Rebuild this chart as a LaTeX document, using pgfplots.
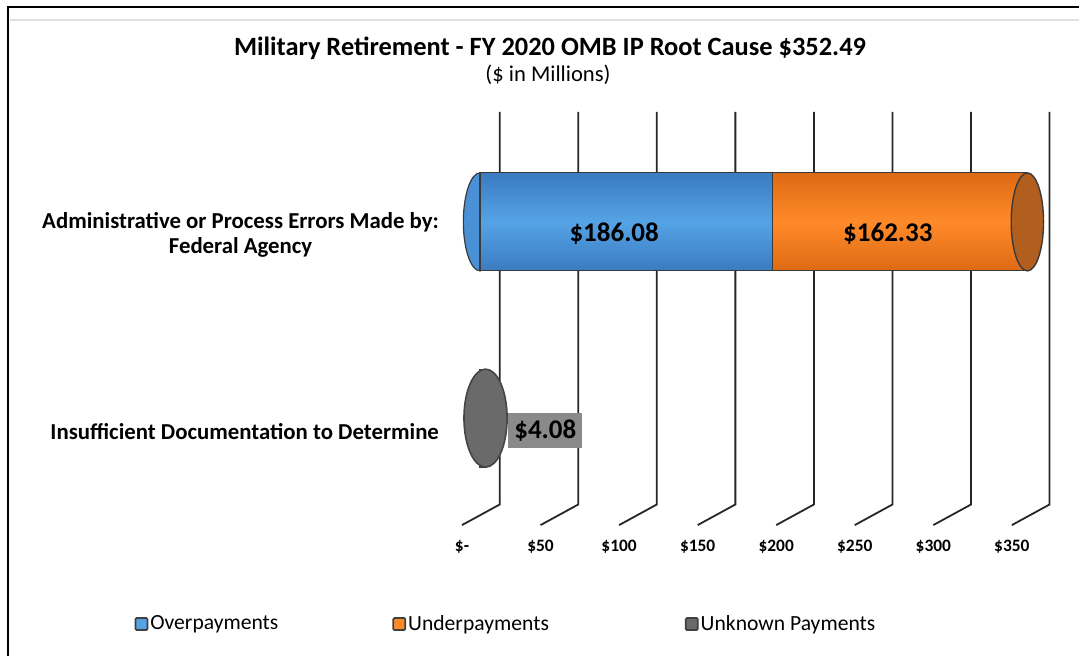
\documentclass[border=0pt]{standalone}
\usepackage{pgfplots}
\pgfplotsset{compat=1.18}
\usepackage{fontspec}
\setmainfont{Carlito}
\definecolor{blueM}{HTML}{55A3E6}
\definecolor{blueD}{HTML}{3B7BC0}
\definecolor{blueC}{HTML}{4A90D6}
\definecolor{orM}{HTML}{FF8A2A}
\definecolor{orD}{HTML}{DD6A14}
\definecolor{orCap}{HTML}{B25E1E}
\definecolor{grM}{HTML}{6A6A6A}
\definecolor{grD}{HTML}{454545}
\definecolor{lblBox}{HTML}{8A8A8A}
\definecolor{edge}{HTML}{3A3A3A}
\begin{document}
\begin{tikzpicture}
\useasboundingbox (0,0) rectangle (539.5pt,328pt);
% frame
\draw[black!12, line width=0.8pt] (5pt,318pt) -- (539.5pt,318pt);
\draw[black, line width=1.2pt] (4pt,0pt) -- (4pt,324.5pt) -- (539.5pt,324.5pt);
% titles
\node[font=\bfseries\fontsize{13.2}{15}\selectfont] at (275pt,304pt) {Military Retirement - FY 2020 OMB IP Root Cause \$352.49};
\node[font=\fontsize{11.3}{13}\selectfont] at (274pt,290.5pt) {(\$ in Millions)};
% ---- axis A: decoration, ticks, labels, grid, legend
\begin{axis}[
  at={(231pt,63pt)}, anchor=south west,
  scale only axis, width=293pt, height=209pt,
  xmin=0, xmax=373, ymin=-0.57, ymax=1.56,
  clip=false,
  axis line style={draw=none},
  major tick length=0pt,
  xtick={0,50,100,150,200,250,300,350},
  xticklabels={\$-,\$50,\$100,\$150,\$200,\$250,\$300,\$350},
  xticklabel style={font=\bfseries\fontsize{8.7}{10}\selectfont, yshift=-1.5pt},
  ytick={0,1},
  yticklabels={Insufficient Documentation to Determine,{Administrative or Process Errors Made by:\\Federal Agency}},
  yticklabel style={font=\bfseries\fontsize{11.4}{12.5}\selectfont, align=center, xshift=-8pt, yshift=-6.5pt},
  legend columns=3,
  legend style={draw=none, fill=none, at={(0.075,-0.225)}, anchor=center,
    font=\fontsize{10.8}{12}\selectfont, inner sep=0pt,
    nodes={inner xsep=1pt},
    /tikz/column 2/.style={column sep=56pt},
    /tikz/column 4/.style={column sep=67pt}},
  legend image code/.code={\draw[#1, draw=black!75, line width=0.9pt, rounded corners=0.6pt] (0pt,-3pt) rectangle (6pt,3pt);},
]
% slanted 3D grid lines
\draw[black!85, line width=0.9pt] (axis cs:24,1.56) -- (axis cs:24,-0.44) -- (axis cs:0,-0.545);
\draw[black!85, line width=0.9pt] (axis cs:74,1.56) -- (axis cs:74,-0.44) -- (axis cs:50,-0.545);
\draw[black!85, line width=0.9pt] (axis cs:124,1.56) -- (axis cs:124,-0.44) -- (axis cs:100,-0.545);
\draw[black!85, line width=0.9pt] (axis cs:174,1.56) -- (axis cs:174,-0.44) -- (axis cs:150,-0.545);
\draw[black!85, line width=0.9pt] (axis cs:224,1.56) -- (axis cs:224,-0.44) -- (axis cs:200,-0.545);
\draw[black!85, line width=0.9pt] (axis cs:274,1.56) -- (axis cs:274,-0.44) -- (axis cs:250,-0.545);
\draw[black!85, line width=0.9pt] (axis cs:324,1.56) -- (axis cs:324,-0.44) -- (axis cs:300,-0.545);
\draw[black!85, line width=0.9pt] (axis cs:374,1.56) -- (axis cs:374,-0.44) -- (axis cs:350,-0.545);
\addlegendimage{fill=blueM}
\addlegendentry{Overpayments}
\addlegendimage{fill=orM}
\addlegendentry{Underpayments}
\addlegendimage{fill=grM}
\addlegendentry{Unknown Payments}
\end{axis}
% ---- axis B: blue left cap (behind bars), shifted to mid depth
\begin{axis}[
  at={(240pt,63pt)}, anchor=south west,
  scale only axis, width=293pt, height=209pt,
  xmin=0, xmax=373, ymin=-0.57, ymax=1.56,
  clip=false, hide axis,
]
\addplot[only marks, mark=*, mark size=24.5pt,
  mark options={xscale=0.34, draw=edge, line width=0.6pt, fill=blueC}]
  coordinates {(0,1)};
\end{axis}
% ---- axis C: stacked overpayments / underpayments
\begin{axis}[
  at={(240pt,63pt)}, anchor=south west,
  scale only axis, width=293pt, height=209pt,
  xmin=0, xmax=373, ymin=-0.57, ymax=1.56,
  clip=false, hide axis,
  xbar stacked, bar width=49pt,
]
\addplot[draw=edge, line width=0.6pt, top color=blueD, bottom color=blueD, middle color=blueM]
  coordinates {(186.08,1)};
\addplot[draw=edge, line width=0.6pt, top color=orD, bottom color=orD, middle color=orM]
  coordinates {(162.33,1)};
\end{axis}
% ---- axis D: caps, unknown payments, value labels
\begin{axis}[
  at={(240pt,63pt)}, anchor=south west,
  scale only axis, width=293pt, height=209pt,
  xmin=0, xmax=373, ymin=-0.57, ymax=1.56,
  clip=false, hide axis,
]
% right end cap of the stacked cylinder (186.08 + 162.33)
\addplot[only marks, mark=*, mark size=24.5pt,
  mark options={xscale=0.33, draw=edge, line width=0.7pt, fill=orCap}]
  coordinates {(348.41,1)};
% unknown payments
\addplot[xbar, bar width=49pt, fill=grM, draw=edge, line width=0.6pt,
  mark=*, mark size=24.5pt,
  mark options={xscale=0.44, xshift=-1pt, draw=grD, line width=0.8pt, fill=grM},
  nodes near coords={\$4.08},
  every node near coord/.append style={font=\bfseries\fontsize{13.5}{15}\selectfont,
    text=black, fill=lblBox, anchor=west, xshift=11pt, yshift=-6pt,
    minimum height=17pt, inner xsep=3pt}]
  coordinates {(4.08,0)};
% value labels at the middle of each segment
\addplot[draw=none, mark=none, nodes near coords, point meta=explicit symbolic,
  every node near coord/.append style={font=\bfseries\fontsize{13.5}{15}\selectfont,
    text=black, anchor=center, xshift=-6pt, yshift=-6pt}]
  coordinates {(93.04,1) [\$186.08] (267.245,1) [\$162.33]};
\end{axis}
\end{tikzpicture}
\end{document}
